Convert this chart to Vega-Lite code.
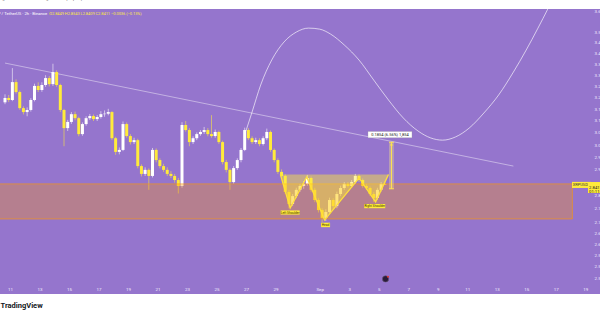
{
  "$schema": "https://vega.github.io/schema/vega-lite/v6.json",
  "width": 600,
  "height": 285,
  "autosize": {"type": "none"},
  "padding": {"top": 9, "bottom": 21, "left": 0, "right": 0},
  "background": "#FFFFFF",
  "title": {"text": "ng11 created with TradingView.com, Sep 05, 2025 10:48 UTC", "anchor": "start", "frame": "group", "baseline": "bottom", "offset": 3, "fontSize": 4.2, "fontWeight": "normal", "color": "#4A4A4A", "font": "Roboto"},
  "config": {"view": {"fill": "#9575CD", "stroke": null}, "font": "Roboto"},
  "datasets": {
    "candles": [
      {"t":"2025-08-10T16:00Z","o":3.180,"h":3.215,"l":3.172,"c":3.199},
      {"t":"2025-08-10T22:00Z","o":3.199,"h":3.212,"l":3.181,"c":3.190},
      {"t":"2025-08-11T04:00Z","o":3.190,"h":3.332,"l":3.185,"c":3.269},
      {"t":"2025-08-11T10:00Z","o":3.269,"h":3.281,"l":3.218,"c":3.225},
      {"t":"2025-08-11T16:00Z","o":3.225,"h":3.232,"l":3.148,"c":3.155},
      {"t":"2025-08-11T22:00Z","o":3.155,"h":3.163,"l":3.128,"c":3.138},
      {"t":"2025-08-12T04:00Z","o":3.138,"h":3.158,"l":3.120,"c":3.147},
      {"t":"2025-08-12T10:00Z","o":3.147,"h":3.198,"l":3.140,"c":3.190},
      {"t":"2025-08-12T16:00Z","o":3.190,"h":3.262,"l":3.184,"c":3.252},
      {"t":"2025-08-12T22:00Z","o":3.252,"h":3.268,"l":3.225,"c":3.234},
      {"t":"2025-08-13T04:00Z","o":3.234,"h":3.268,"l":3.226,"c":3.256},
      {"t":"2025-08-13T10:00Z","o":3.256,"h":3.300,"l":3.248,"c":3.287},
      {"t":"2025-08-13T16:00Z","o":3.287,"h":3.296,"l":3.250,"c":3.260},
      {"t":"2025-08-13T22:00Z","o":3.260,"h":3.352,"l":3.252,"c":3.314},
      {"t":"2025-08-14T04:00Z","o":3.314,"h":3.322,"l":3.248,"c":3.256},
      {"t":"2025-08-14T10:00Z","o":3.256,"h":3.262,"l":3.138,"c":3.147},
      {"t":"2025-08-14T16:00Z","o":3.147,"h":3.152,"l":2.995,"c":3.070},
      {"t":"2025-08-14T22:00Z","o":3.070,"h":3.105,"l":3.058,"c":3.096},
      {"t":"2025-08-15T04:00Z","o":3.096,"h":3.138,"l":3.088,"c":3.129},
      {"t":"2025-08-15T10:00Z","o":3.129,"h":3.140,"l":3.103,"c":3.112},
      {"t":"2025-08-15T16:00Z","o":3.112,"h":3.118,"l":3.036,"c":3.045},
      {"t":"2025-08-15T22:00Z","o":3.045,"h":3.094,"l":3.038,"c":3.087},
      {"t":"2025-08-16T04:00Z","o":3.087,"h":3.120,"l":3.080,"c":3.112},
      {"t":"2025-08-16T10:00Z","o":3.112,"h":3.130,"l":3.104,"c":3.121},
      {"t":"2025-08-16T16:00Z","o":3.121,"h":3.128,"l":3.100,"c":3.108},
      {"t":"2025-08-16T22:00Z","o":3.108,"h":3.125,"l":3.100,"c":3.117},
      {"t":"2025-08-17T04:00Z","o":3.117,"h":3.142,"l":3.110,"c":3.129},
      {"t":"2025-08-17T10:00Z","o":3.129,"h":3.145,"l":3.118,"c":3.131},
      {"t":"2025-08-17T16:00Z","o":3.131,"h":3.152,"l":3.124,"c":3.138},
      {"t":"2025-08-17T22:00Z","o":3.138,"h":3.142,"l":3.020,"c":3.028},
      {"t":"2025-08-18T04:00Z","o":3.028,"h":3.034,"l":2.960,"c":2.972},
      {"t":"2025-08-18T10:00Z","o":2.972,"h":2.990,"l":2.962,"c":2.980},
      {"t":"2025-08-18T16:00Z","o":2.980,"h":3.098,"l":2.975,"c":3.087},
      {"t":"2025-08-18T22:00Z","o":3.087,"h":3.094,"l":3.030,"c":3.037},
      {"t":"2025-08-19T04:00Z","o":3.037,"h":3.045,"l":3.002,"c":3.012},
      {"t":"2025-08-19T10:00Z","o":3.012,"h":3.030,"l":3.004,"c":3.020},
      {"t":"2025-08-19T16:00Z","o":3.020,"h":3.026,"l":2.906,"c":2.915},
      {"t":"2025-08-19T22:00Z","o":2.915,"h":2.922,"l":2.874,"c":2.884},
      {"t":"2025-08-20T04:00Z","o":2.884,"h":2.910,"l":2.876,"c":2.900},
      {"t":"2025-08-20T10:00Z","o":2.900,"h":2.906,"l":2.822,"c":2.876},
      {"t":"2025-08-20T16:00Z","o":2.876,"h":2.988,"l":2.870,"c":2.980},
      {"t":"2025-08-20T22:00Z","o":2.980,"h":2.986,"l":2.930,"c":2.939},
      {"t":"2025-08-21T04:00Z","o":2.939,"h":2.946,"l":2.906,"c":2.915},
      {"t":"2025-08-21T10:00Z","o":2.915,"h":2.924,"l":2.892,"c":2.900},
      {"t":"2025-08-21T16:00Z","o":2.900,"h":2.910,"l":2.876,"c":2.884},
      {"t":"2025-08-21T22:00Z","o":2.884,"h":2.895,"l":2.868,"c":2.876},
      {"t":"2025-08-22T04:00Z","o":2.876,"h":2.884,"l":2.850,"c":2.860},
      {"t":"2025-08-22T10:00Z","o":2.860,"h":2.868,"l":2.808,"c":2.837},
      {"t":"2025-08-22T16:00Z","o":2.837,"h":3.095,"l":2.830,"c":3.083},
      {"t":"2025-08-22T22:00Z","o":3.083,"h":3.100,"l":3.055,"c":3.062},
      {"t":"2025-08-23T04:00Z","o":3.062,"h":3.070,"l":2.995,"c":3.012},
      {"t":"2025-08-23T10:00Z","o":3.012,"h":3.036,"l":3.004,"c":3.028},
      {"t":"2025-08-23T16:00Z","o":3.028,"h":3.052,"l":3.020,"c":3.045},
      {"t":"2025-08-23T22:00Z","o":3.045,"h":3.062,"l":3.038,"c":3.054},
      {"t":"2025-08-24T04:00Z","o":3.054,"h":3.075,"l":3.046,"c":3.062},
      {"t":"2025-08-24T10:00Z","o":3.062,"h":3.070,"l":3.036,"c":3.045},
      {"t":"2025-08-24T16:00Z","o":3.045,"h":3.125,"l":3.030,"c":3.037},
      {"t":"2025-08-24T22:00Z","o":3.037,"h":3.064,"l":3.030,"c":3.054},
      {"t":"2025-08-25T04:00Z","o":3.054,"h":3.060,"l":3.004,"c":3.012},
      {"t":"2025-08-25T10:00Z","o":3.012,"h":3.018,"l":2.922,"c":2.931},
      {"t":"2025-08-25T16:00Z","o":2.931,"h":2.940,"l":2.890,"c":2.900},
      {"t":"2025-08-25T22:00Z","o":2.900,"h":2.906,"l":2.822,"c":2.852},
      {"t":"2025-08-26T04:00Z","o":2.852,"h":2.915,"l":2.846,"c":2.907},
      {"t":"2025-08-26T10:00Z","o":2.907,"h":2.946,"l":2.900,"c":2.939},
      {"t":"2025-08-26T16:00Z","o":2.939,"h":2.988,"l":2.930,"c":2.980},
      {"t":"2025-08-26T22:00Z","o":2.980,"h":3.072,"l":2.975,"c":3.062},
      {"t":"2025-08-27T04:00Z","o":3.062,"h":3.070,"l":3.020,"c":3.028},
      {"t":"2025-08-27T10:00Z","o":3.028,"h":3.036,"l":3.004,"c":3.012},
      {"t":"2025-08-27T16:00Z","o":3.012,"h":3.030,"l":3.004,"c":3.020},
      {"t":"2025-08-27T22:00Z","o":3.020,"h":3.028,"l":2.995,"c":3.004},
      {"t":"2025-08-28T04:00Z","o":3.004,"h":3.036,"l":2.998,"c":3.028},
      {"t":"2025-08-28T10:00Z","o":3.028,"h":3.068,"l":3.020,"c":3.054},
      {"t":"2025-08-28T16:00Z","o":3.054,"h":3.060,"l":2.972,"c":2.980},
      {"t":"2025-08-28T22:00Z","o":2.980,"h":2.986,"l":2.930,"c":2.939},
      {"t":"2025-08-29T04:00Z","o":2.939,"h":2.946,"l":2.884,"c":2.892},
      {"t":"2025-08-29T10:00Z","o":2.892,"h":2.902,"l":2.866,"c":2.876},
      {"t":"2025-08-29T16:00Z","o":2.876,"h":2.882,"l":2.806,"c":2.814},
      {"t":"2025-08-29T22:00Z","o":2.814,"h":2.822,"l":2.752,"c":2.768},
      {"t":"2025-08-30T04:00Z","o":2.768,"h":2.806,"l":2.760,"c":2.798},
      {"t":"2025-08-30T10:00Z","o":2.798,"h":2.830,"l":2.790,"c":2.822},
      {"t":"2025-08-30T16:00Z","o":2.822,"h":2.845,"l":2.814,"c":2.837},
      {"t":"2025-08-30T22:00Z","o":2.837,"h":2.856,"l":2.826,"c":2.845},
      {"t":"2025-08-31T04:00Z","o":2.845,"h":2.880,"l":2.838,"c":2.868},
      {"t":"2025-08-31T10:00Z","o":2.868,"h":2.874,"l":2.814,"c":2.822},
      {"t":"2025-08-31T16:00Z","o":2.822,"h":2.830,"l":2.775,"c":2.783},
      {"t":"2025-08-31T22:00Z","o":2.783,"h":2.790,"l":2.736,"c":2.745},
      {"t":"2025-09-01T04:00Z","o":2.745,"h":2.752,"l":2.700,"c":2.716},
      {"t":"2025-09-01T10:00Z","o":2.716,"h":2.748,"l":2.705,"c":2.738},
      {"t":"2025-09-01T16:00Z","o":2.738,"h":2.792,"l":2.730,"c":2.783},
      {"t":"2025-09-01T22:00Z","o":2.783,"h":2.790,"l":2.750,"c":2.760},
      {"t":"2025-09-02T04:00Z","o":2.760,"h":2.815,"l":2.752,"c":2.806},
      {"t":"2025-09-02T10:00Z","o":2.806,"h":2.838,"l":2.798,"c":2.829},
      {"t":"2025-09-02T16:00Z","o":2.829,"h":2.852,"l":2.822,"c":2.845},
      {"t":"2025-09-02T22:00Z","o":2.845,"h":2.852,"l":2.830,"c":2.837},
      {"t":"2025-09-03T04:00Z","o":2.837,"h":2.860,"l":2.830,"c":2.852},
      {"t":"2025-09-03T10:00Z","o":2.852,"h":2.884,"l":2.846,"c":2.876},
      {"t":"2025-09-03T16:00Z","o":2.876,"h":2.882,"l":2.852,"c":2.860},
      {"t":"2025-09-03T22:00Z","o":2.860,"h":2.866,"l":2.830,"c":2.837},
      {"t":"2025-09-04T04:00Z","o":2.837,"h":2.845,"l":2.822,"c":2.829},
      {"t":"2025-09-04T10:00Z","o":2.829,"h":2.835,"l":2.798,"c":2.806},
      {"t":"2025-09-04T16:00Z","o":2.806,"h":2.814,"l":2.775,"c":2.791},
      {"t":"2025-09-04T22:00Z","o":2.791,"h":2.830,"l":2.784,"c":2.822},
      {"t":"2025-09-05T04:00Z","o":2.822,"h":2.852,"l":2.815,"c":2.8449},
      {"t":"2025-09-05T10:00Z","o":2.8449,"h":2.8543,"l":2.8409,"c":2.8411}
    ],
    "zone": [{"t":"2025-08-01T00:00Z","t2":"2025-09-18T03:12Z","p":2.712,"p2":2.845}],
    "trend": [{"t":"2025-08-10T16:00Z","p":3.355},{"t":"2025-09-14T03:12Z","p":2.915}],
    "hs": [
      {"t":"2025-08-29T08:00Z","p":2.882,"n":2.882},
      {"t":"2025-08-30T00:00Z","p":2.753,"n":2.882},
      {"t":"2025-08-31T03:00Z","p":2.872,"n":2.882},
      {"t":"2025-09-01T08:00Z","p":2.708,"n":2.882},
      {"t":"2025-09-03T16:00Z","p":2.868,"n":2.882},
      {"t":"2025-09-04T19:00Z","p":2.776,"n":2.882},
      {"t":"2025-09-05T16:00Z","p":2.882,"n":2.882}
    ],
    "curve": [
      {"t":"2025-08-27T00:00Z","p":3.058},
      {"t":"2025-08-27T10:00Z","p":3.138},
      {"t":"2025-08-28T00:00Z","p":3.256},
      {"t":"2025-08-28T18:00Z","p":3.369},
      {"t":"2025-08-29T14:00Z","p":3.453},
      {"t":"2025-08-30T10:00Z","p":3.500},
      {"t":"2025-08-31T06:00Z","p":3.519},
      {"t":"2025-09-01T00:00Z","p":3.514},
      {"t":"2025-09-01T18:00Z","p":3.490},
      {"t":"2025-09-02T16:00Z","p":3.439},
      {"t":"2025-09-03T16:00Z","p":3.369},
      {"t":"2025-09-04T16:00Z","p":3.278},
      {"t":"2025-09-05T16:00Z","p":3.190},
      {"t":"2025-09-06T16:00Z","p":3.113},
      {"t":"2025-09-07T16:00Z","p":3.058},
      {"t":"2025-09-08T12:48Z","p":3.029},
      {"t":"2025-09-09T08:00Z","p":3.020},
      {"t":"2025-09-10T04:48Z","p":3.033},
      {"t":"2025-09-11T03:12Z","p":3.070},
      {"t":"2025-09-12T03:12Z","p":3.134},
      {"t":"2025-09-13T03:12Z","p":3.212},
      {"t":"2025-09-14T03:12Z","p":3.314},
      {"t":"2025-09-15T00:00Z","p":3.415},
      {"t":"2025-09-15T19:12Z","p":3.519},
      {"t":"2025-09-16T11:12Z","p":3.612},
      {"t":"2025-09-16T20:48Z","p":3.671}
    ],
    "hslabels": [
      {"t":"2025-08-30T00:00Z","p":2.736,"label":"Left Shoulder"},
      {"t":"2025-09-01T09:36Z","p":2.690,"label":"Head"},
      {"t":"2025-09-04T17:36Z","p":2.760,"label":"Right Shoulder"}
    ],
    "mcol": [{"t":"2025-09-05T16:48Z","t2":"2025-09-06T00:48Z","p":2.826,"p2":3.0115}],
    "mrules": [
      {"t":"2025-09-05T20:48Z","t2":"2025-09-05T20:48Z","p":2.826,"p2":3.0115},
      {"t":"2025-09-05T16:48Z","t2":"2025-09-06T00:48Z","p":2.826,"p2":2.826},
      {"t":"2025-09-05T16:48Z","t2":"2025-09-06T00:48Z","p":3.0115,"p2":3.0115}
    ],
    "marrow": [{"t":"2025-09-05T20:48Z","p":3.004}],
    "mlabel": [{"t":"2025-09-05T18:24Z","p":3.043,"label":"0.1854 (6.56%) 1,854"}],
    "symtag": [{"t":"2025-09-18T18:00Z","p":2.841,"label":"XRPUSDT"}],
    "pricetag": [{"t":"2025-09-19T16:00Z","p":2.831}],
    "pricetext": [{"t":"2025-09-19T06:24Z","p":2.831,"label":"2.8411\n01:11:12"}],
    "head1": [{"t":"2025-08-13T12:48Z","p":3.587,"label":"XRP / TetherUS · 2h · Binance"}],
    "head2": [{"t":"2025-08-13T16:00Z","p":3.587,"label":"O2.8449 H2.8543 L2.8409 C2.8411 −0.0036 (−0.13%)"}],
    "icon": [{"t":"2025-09-05T11:12Z","p":2.499}],
    "icondot": [{"t":"2025-09-05T15:12Z","p":2.506}]
  },
  "encoding": {
    "x": {
      "field": "t", "type": "temporal",
      "scale": {"type": "utc", "domain": [{"year":2025,"month":8,"date":10,"hours":16,"utc":true},{"year":2025,"month":9,"date":19,"hours":16,"utc":true}]},
      "axis": {
        "values": [
          {"year":2025,"month":8,"date":11,"utc":true},{"year":2025,"month":8,"date":13,"utc":true},
          {"year":2025,"month":8,"date":15,"utc":true},{"year":2025,"month":8,"date":17,"utc":true},
          {"year":2025,"month":8,"date":19,"utc":true},{"year":2025,"month":8,"date":21,"utc":true},
          {"year":2025,"month":8,"date":23,"utc":true},{"year":2025,"month":8,"date":25,"utc":true},
          {"year":2025,"month":8,"date":27,"utc":true},{"year":2025,"month":8,"date":29,"utc":true},
          {"year":2025,"month":9,"date":1,"utc":true},{"year":2025,"month":9,"date":3,"utc":true},
          {"year":2025,"month":9,"date":5,"utc":true},{"year":2025,"month":9,"date":7,"utc":true},
          {"year":2025,"month":9,"date":9,"utc":true},{"year":2025,"month":9,"date":11,"utc":true},
          {"year":2025,"month":9,"date":13,"utc":true},{"year":2025,"month":9,"date":15,"utc":true},
          {"year":2025,"month":9,"date":17,"utc":true},{"year":2025,"month":9,"date":19,"utc":true}
        ],
        "labelExpr": "utcdate(datum.value) === 1 ? 'Sep' : utcFormat(datum.value, '%-d')",
        "domain": false, "ticks": false, "tickSize": 0, "grid": false,
        "labelPadding": -5, "labelBaseline": "middle", "labelFontSize": 4.4, "labelColor": "#F3EEFF",
        "labelFlush": false, "labelOverlap": false,
        "title": "TradingView", "titleX": 0, "titleY": 11, "titleAlign": "left", "titleAnchor": "start",
        "titleBaseline": "middle", "titleFontSize": 7.5, "titleFontWeight": "bold", "titleColor": "#131722"
      }
    },
    "y": {
      "field": "p", "type": "quantitative",
      "scale": {"type": "log", "domain": [2.448, 3.612], "nice": false},
      "axis": {
        "orient": "right", "offset": -6,
        "values": [3.6, 3.5, 3.45, 3.4, 3.35, 3.3, 3.25, 3.2, 3.15, 3.1, 3.05, 3.0, 2.95, 2.9, 2.8, 2.75, 2.7, 2.66, 2.62, 2.58, 2.54, 2.5],
        "format": ".4f", "domain": false, "ticks": false, "tickSize": 0, "grid": false,
        "labelPadding": 0, "labelFontSize": 4.4, "labelColor": "#F3EEFF", "labelAlign": "left", "labelBaseline": "middle",
        "labelOverlap": false, "labelFlush": false, "title": null
      }
    }
  },
  "layer": [
    {"data": {"name": "trend"}, "mark": {"type": "line", "color": "#FFFFFF", "opacity": 0.55, "strokeWidth": 0.8}},
    {"data": {"name": "candles"}, "mark": {"type": "rule", "strokeWidth": 0.8, "opacity": 0.7},
     "encoding": {
       "y": {"field": "l", "type": "quantitative", "scale": {"type": "log", "domain": [2.448, 3.612], "nice": false}},
       "y2": {"field": "h"},
       "color": {"condition": {"test": "datum.c >= datum.o", "value": "#FFFFFF"}, "value": "#FFEB3B"}
     }},
    {"data": {"name": "candles"}, "mark": {"type": "bar", "size": 3},
     "encoding": {
       "y": {"field": "o", "type": "quantitative", "scale": {"type": "log", "domain": [2.448, 3.612], "nice": false}},
       "y2": {"field": "c"},
       "color": {"condition": {"test": "datum.c >= datum.o", "value": "#FFFFFF"}, "value": "#FFEB3B"}
     }},
    {"data": {"name": "zone"}, "mark": {"type": "rect", "fill": "#FF9800", "fillOpacity": 0.3, "stroke": "#FF9800", "strokeOpacity": 0.85, "strokeWidth": 0.7, "clip": true},
     "encoding": {"x2": {"field": "t2"}, "y2": {"field": "p2"}}},
    {"data": {"name": "hs"}, "mark": {"type": "area", "color": "#FFEB3B", "opacity": 0.45},
     "encoding": {"y2": {"field": "n"}}},
    {"data": {"name": "hs"}, "mark": {"type": "line", "color": "#FFE03A", "strokeWidth": 1.3}},
    {"data": {"name": "curve"}, "mark": {"type": "line", "color": "#FFFFFF", "opacity": 0.8, "strokeWidth": 0.8, "interpolate": "monotone", "clip": true}},
    {"data": {"name": "mcol"}, "mark": {"type": "rect", "color": "#F6E68A", "opacity": 0.35},
     "encoding": {"x2": {"field": "t2"}, "y2": {"field": "p2"}}},
    {"data": {"name": "mrules"}, "mark": {"type": "rule", "color": "#FFE44D", "strokeWidth": 1},
     "encoding": {"x2": {"field": "t2"}, "y2": {"field": "p2"}}},
    {"data": {"name": "marrow"}, "mark": {"type": "point", "shape": "triangle-up", "size": 10, "filled": true, "color": "#FFE44D", "opacity": 1}},
    {"data": {"name": "hslabels"}, "mark": {"type": "point", "filled": true, "color": "#FFEB3B", "opacity": 1, "strokeWidth": 0},
     "encoding": {
       "shape": {"condition": [{"test": "datum.label === 'Head'", "value": "M-1,-0.5L1,-0.5L1,0.5L-1,0.5Z"}, {"test": "datum.label === 'Right Shoulder'", "value": "M-1,-0.2L1,-0.2L1,0.2L-1,0.2Z"}], "value": "M-1,-0.22L1,-0.22L1,0.22L-1,0.22Z"},
       "size": {"condition": [{"test": "datum.label === 'Head'", "value": 81}, {"test": "datum.label === 'Right Shoulder'", "value": 441}], "value": 361}
     }},
    {"data": {"name": "hslabels"}, "mark": {"type": "text", "fontSize": 3.2, "color": "#3A3000", "baseline": "middle"},
     "encoding": {"text": {"field": "label"}}},
    {"data": {"name": "mlabel"}, "mark": {"type": "point", "filled": true, "color": "#FFFFFF", "opacity": 1, "stroke": "#9E9E9E", "strokeWidth": 0.3, "shape": "M-1,-0.14L1,-0.14L1,0.14L-1,0.14Z", "size": 1936}},
    {"data": {"name": "mlabel"}, "mark": {"type": "text", "fontSize": 4, "color": "#222222", "baseline": "middle"},
     "encoding": {"text": {"field": "label"}}},
    {"data": {"name": "symtag"}, "mark": {"type": "point", "filled": true, "color": "#FFEB3B", "opacity": 1, "strokeWidth": 0, "shape": "M-1,-0.32L1,-0.32L1,0.32L-1,0.32Z", "size": 361}},
    {"data": {"name": "symtag"}, "mark": {"type": "text", "fontSize": 4, "color": "#333333", "baseline": "middle"},
     "encoding": {"text": {"field": "label"}}},
    {"data": {"name": "pricetag"}, "mark": {"type": "point", "filled": true, "color": "#FFEB3B", "opacity": 1, "strokeWidth": 0, "shape": "M-1,-0.79L1,-0.79L1,0.79L-1,0.79Z", "size": 196}},
    {"data": {"name": "pricetext"}, "mark": {"type": "text", "fontSize": 4.2, "color": "#222222", "align": "left", "baseline": "middle", "lineBreak": "\n", "lineHeight": 4.8},
     "encoding": {"text": {"field": "label"}}},
    {"data": {"name": "head1"}, "mark": {"type": "text", "fontSize": 4.2, "color": "#FFFFFF", "align": "right", "baseline": "middle"},
     "encoding": {"text": {"field": "label"}}},
    {"data": {"name": "head2"}, "mark": {"type": "text", "fontSize": 3.9, "color": "#FFEB3B", "align": "left", "baseline": "middle"},
     "encoding": {"text": {"field": "label"}}},
    {"data": {"name": "icon"}, "mark": {"type": "point", "shape": "circle", "filled": true, "color": "#2A1B3A", "stroke": "#6B5A80", "strokeWidth": 0.6, "size": 40, "opacity": 1}},
    {"data": {"name": "icondot"}, "mark": {"type": "point", "shape": "circle", "filled": true, "color": "#E53935", "size": 4, "opacity": 1}}
  ]
}
